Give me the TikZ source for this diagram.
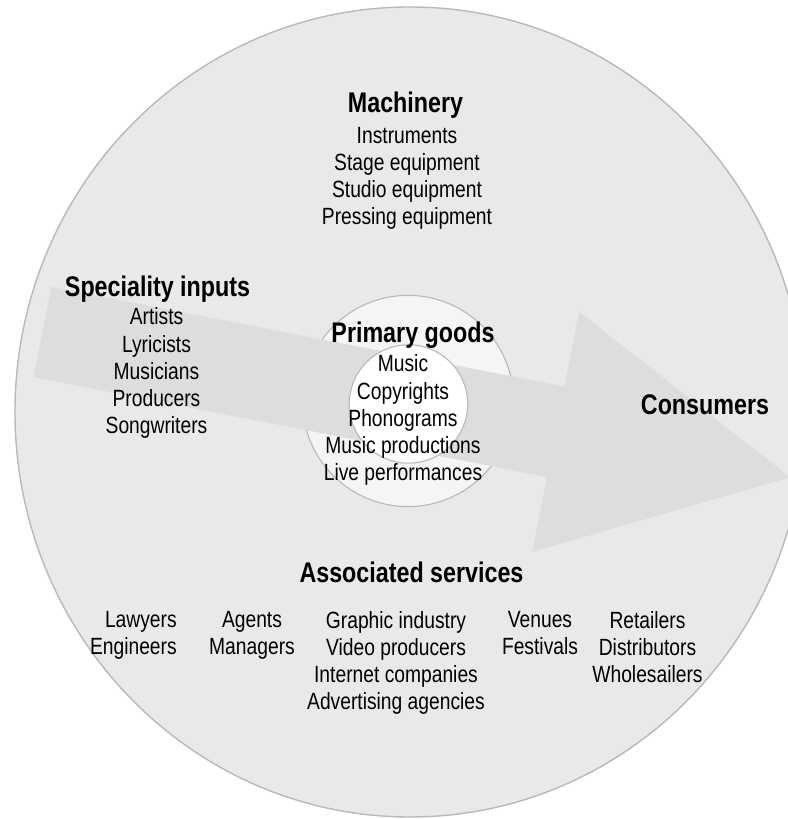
\documentclass[tikz,border=0pt]{standalone}
\usepackage{fontspec}
\setsansfont{Liberation Sans}[FakeStretch=0.82]
\usepackage{tikz}
\usetikzlibrary{positioning}
\definecolor{discgray}{RGB}{233,233,233}
\definecolor{ringgray}{RGB}{245,245,245}
\definecolor{flowgray}{RGB}{221,221,221}
\definecolor{edgegray}{RGB}{185,185,185}

\begin{document}
\begin{tikzpicture}[
  font=\sffamily,
  head/.style={font=\sffamily\bfseries\fontsize{20.2}{22}\selectfont, anchor=base, inner sep=0pt},
  % lists sit on the baseline of their last line
  items/.style={font=\sffamily\fontsize{16.7}{19.4}\selectfont, align=center, anchor=base, inner sep=0pt},
]
\useasboundingbox (0,0) rectangle (19.7,20.475);
\clip (0,0) rectangle (19.7,20.475);
% outer disc and the primary goods rings
\draw[edgegray, fill=discgray, line width=1pt] (10.25,10.175) ellipse [x radius=9.875, y radius=10.125];
\draw[edgegray, fill=ringgray, line width=0.8pt] (10.2,10.45) circle [radius=2.64];
% value chain arrow
\begin{scope}[shift={(1.0625,12.175)}, rotate=-11]
\fill[flowgray] (0,1.15) -- (13.07,1.15) -- (13.07,3.06) -- (19.04,0)
  -- (13.07,-3.06) -- (13.07,-1.15) -- (0,-1.15) -- cycle;
\end{scope}
\draw[edgegray, fill=white, line width=0.8pt] (10.2125,10.375) circle [radius=1.48];

\node[head] (mach) at (10.1375,17.65) {Machinery};
\node[items] (machList) at (10.175,14.85) {Instruments\\Stage equipment\\Studio equipment\\Pressing equipment};

\node[head] (spec) at (3.9375,13.05) {Speciality inputs};
\node[items] (specList) at (3.9125,9.625) {Artists\\Lyricists\\Musicians\\Producers\\Songwriters};

\node[head] (prim) at (10.325,11.9) {Primary goods};
\node[items] (primList) at (10.075,8.45) {Music\\Copyrights\\Phonograms\\Music productions\\Live performances};

\node[head] (cons) at (17.625,10.1) {Consumers};

\node[head] (assoc) at (10.2875,5.9) {Associated services};
\node[items, align=right, anchor=base east] (legal) at (4.425,4.1) {Lawyers\\Engineers};
\node[items] (agents) at (6.3,4.1) {Agents\\Managers};
\node[items] (media) at (9.9,2.725) {Graphic industry\\Video producers\\Internet companies\\Advertising agencies};
\node[items] (live) at (13.5,4.1) {Venues\\Festivals};
\node[items] (trade) at (16.1875,3.4) {Retailers\\Distributors\\Wholesailers};
\end{tikzpicture}
\end{document}
